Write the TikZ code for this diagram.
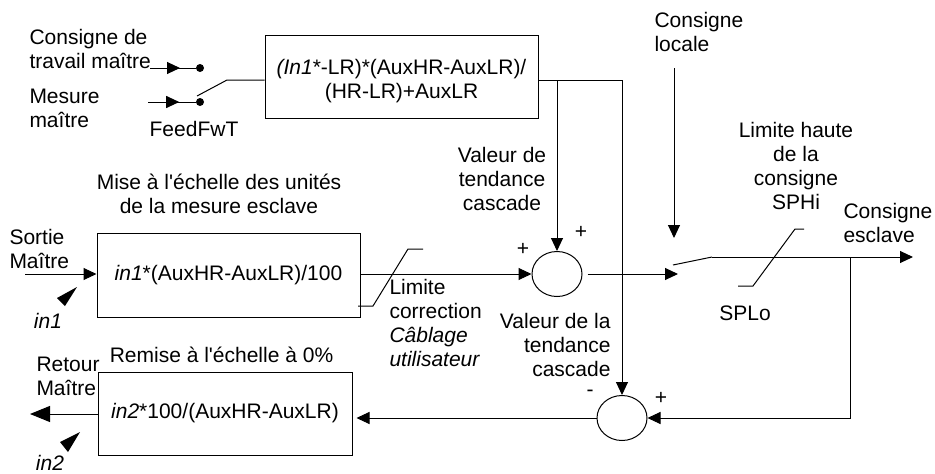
\documentclass[tikz,border=0pt]{standalone}
\usepackage{fontspec}
\setmainfont{Liberation Sans}
\usetikzlibrary{arrows.meta,shapes.geometric,calc}

\begin{document}
\begin{tikzpicture}[x=1pt, y=-1pt, line width=1pt,
    txt/.style={font=\fontsize{21}{24}\selectfont, inner sep=0pt},
    bloc/.style={draw, rectangle, inner sep=0pt},
    somme/.style={draw, ellipse, minimum width=50pt, minimum height=45pt, inner sep=0pt},
    fleche/.style={-{Triangle[length=13pt, width=12pt]}},
    grandefleche/.style={-{Triangle[length=20pt, width=16pt]}},
    borne/.style={circle, fill, inner sep=0pt, minimum size=8pt}]
    \useasboundingbox (0,0) rectangle (935,474);

    % Sélecteur FeedFwT
    \node[txt, anchor=west, align=left] (csgtrav) at (29,49) {Consigne de\\travail maître};
    \node[txt, anchor=west, align=left] (mesm) at (29,108) {Mesure\\maître};
    \node[txt] (ffwt) at (194,129) {FeedFwT};
    \node[borne] (b1) at (200,68) {};
    \node[borne] (b2) at (200,102) {};
    \coordinate (e1) at (150,68);
    \coordinate (e2) at (148,102);
    \draw (e1) -- (b1);
    \draw[fleche] (e1) -- ($(e1)!0.6!(b1)$);
    \draw (e2) -- (b2);
    \draw[fleche] (e2) -- ($(e2)!0.6!(b2)$);

    % Bloc de mise à l'échelle (feedforward)
    \node[bloc, minimum width=273pt, minimum height=83pt] (calc1) at (401.5,76.5) {};
    \node[txt, align=center] (eq1) at (401.5,81) {\textit{(In1}*-LR)*(AuxHR-AuxLR)/\\(HR-LR)+AuxLR};
    \coordinate (lame0) at (197,96);
    \coordinate (lame1) at (227,80);
    \draw (lame0) -- (lame1) -- (lame1 -| calc1.west);

    % Sommateurs
    \node[somme] (sum1) at (557,274) {};
    \node[somme] (sum2) at (622,418) {};
    \node[txt] (p1) at (523,249) {+};
    \node[txt] (p2) at (581,232) {+};
    \node[txt] (m3) at (590,393) {-};
    \node[txt] (p4) at (661,398) {+};

    % Sortie du bloc vers les sommateurs
    \coordinate (j1) at (557,80);
    \coordinate (j2) at (622,80);
    \draw[fleche] (calc1.east |- j2) -- (j2) -- (sum2.north);
    \draw[fleche] (j1) -- (sum1.north);
    \node[txt, align=center] (vtc1) at (502,179) {Valeur de\\tendance\\cascade};
    \node[txt, align=right, anchor=east] (vtc2) at (611,345) {Valeur de la\\tendance\\cascade};

    % Entrée maître
    \node[txt, align=center] (titre2) at (219,194) {Mise à l\textquotesingle échelle des unités\\de la mesure esclave};
    \node[bloc, txt, minimum width=263pt, minimum height=84pt] (calc2) at (228.5,275) {\textit{in1}*(AuxHR-AuxLR)/100};
    \node[txt, anchor=west, align=left] (sortm) at (9,249) {Sortie\\Maître};
    \node[txt] (in1) at (48,321) {\textit{in1}};
    \fill (77,287) -- (57,298) -- (65,306) -- cycle;
    \coordinate (ent) at (25,274);
    \draw[fleche] (ent) -- (ent -| calc2.west);
    \draw[fleche] (calc2.east |- sum1.west) -- (sum1.west);

    % Limite correction
    \draw (358,306) -- (373,306) -- (408,249) -- (423,249);
    \node[txt, anchor=west, align=left] (limc) at (389,323) {Limite\\correction\\\textit{Câblage}\\\textit{utilisateur}};

    % Commutateur consigne locale / consigne esclave
    \node[txt, anchor=west, align=left] (csgloc) at (654,32) {Consigne\\locale};
    \coordinate (loc1) at (674,68);
    \coordinate (loc2) at (674,238);
    \draw[fleche] (loc1) -- (loc2);
    \coordinate (s2) at (678,274);
    \draw[fleche] ([xshift=5pt]sum1.east) -- (s2);
    \coordinate (lame2a) at (673,265);
    \coordinate (lame2b) at (712,257);
    \coordinate (sortie) at (913,257);
    \draw (lame2a) -- (lame2b);
    \draw[fleche] (lame2b) -- (sortie);
    \node[txt, anchor=west, align=left] (csgesc) at (843,223) {Consigne\\esclave};

    % Limites SPHi / SPLo
    \draw (738,286) -- (753,286) -- (795,229) -- (804,229);
    \node[txt, align=center] (sphi) at (796,166) {Limite haute\\de la\\consigne\\SPHi};
    \node[txt] (splo) at (745,313) {SPLo};

    % Retour vers le maître
    \coordinate (fb) at (850,257);
    \draw[fleche] (fb) |- (sum2.east);
    \node[txt] (titre3) at (221.5,355) {Remise à l\textquotesingle échelle à 0\%};
    \node[bloc, txt, minimum width=254pt, minimum height=83pt] (calc3) at (225,413.5) {\textit{in2}*100/(AuxHR-AuxLR)};
    \draw[fleche, shorten >=4pt] (sum2.west) -- (sum2.west -| calc3.east);
    \coordinate (ret) at (30,414);
    \draw[grandefleche] (calc3.west |- ret) -- (ret);
    \node[txt, anchor=west, align=left] (retm) at (36,376) {Retour\\Maître};
    \node[txt] (in2) at (50,463) {\textit{in2}};
    \fill (80,432) -- (60,442) -- (68,452) -- cycle;
\end{tikzpicture}
\end{document}
